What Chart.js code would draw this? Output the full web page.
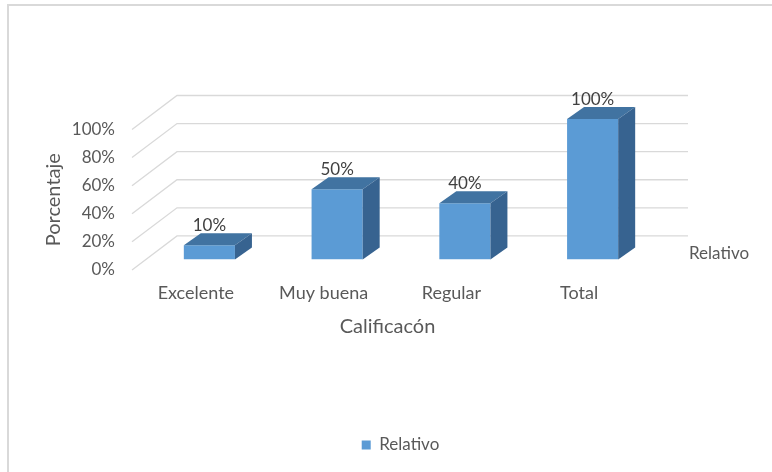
<!DOCTYPE html>
<html>
<head>
<meta charset="utf-8">
<script src="https://cdn.jsdelivr.net/npm/chart.js@4"></script>
<style>
  html, body { margin: 0; padding: 0; background: #fff; overflow: hidden; }
  #frame {
    position: absolute; left: 7px; top: 4px; width: 820px; height: 520px;
    border-top: 2px solid #d9d9d9; border-left: 2px solid #d9d9d9;
  }
  canvas { position: absolute; left: 0; top: 0; }
</style>
</head>
<body>
<div id="frame"></div>
<canvas id="chart" width="772" height="472"></canvas>
<script>
const categories = ['Excelente', 'Muy buena', 'Regular', 'Total'];
const relativo = [0.10, 0.50, 0.40, 1.00];
const yTicks = [0, 0.2, 0.4, 0.6, 0.8, 1.0];
const seriesName = 'Relativo';

// 3D look: floor depth, how far the bars sit behind the front edge, bar thickness
const WALL_DX = 45, WALL_DY = 34;
const BAR_DX = 13.5, BAR_DY = 10.5;
const BAR_DEPTH_X = 17, BAR_DEPTH_Y = 12;

const FONT = 'Lato';
const TEXT = '#595959';

const pct = v => Math.round(v * 100) + '%';

const depth3d = {
    id: 'depth3d',
    beforeDatasetsDraw(chart) {
        const { ctx, chartArea: a, scales: { y } } = chart;
        // back wall + side wall gridlines
        ctx.save();
        ctx.strokeStyle = '#d9d9d9';
        ctx.lineWidth = 1.3;
        yTicks.forEach(v => {
            const py = y.getPixelForValue(v);
            ctx.beginPath();
            ctx.moveTo(a.left, py);
            ctx.lineTo(a.left + WALL_DX, py - WALL_DY);
            ctx.lineTo(a.right + WALL_DX, py - WALL_DY);
            ctx.stroke();
        });
        ctx.restore();
        // bars stand a bit behind the front edge of the floor
        ctx.save();
        ctx.translate(BAR_DX, -BAR_DY);
    },
    afterDatasetsDraw(chart) {
        const { ctx, chartArea: a, scales: { y } } = chart;
        const meta = chart.getDatasetMeta(0);
        meta.data.forEach((bar, i) => {
            const { x, y: top, base, width } = bar.getProps(['x', 'y', 'base', 'width'], true);
            const l = x - width / 2, r = x + width / 2;
            // top face
            ctx.fillStyle = '#4173a1';
            ctx.beginPath();
            ctx.moveTo(l, top);
            ctx.lineTo(l + BAR_DEPTH_X, top - BAR_DEPTH_Y);
            ctx.lineTo(r + BAR_DEPTH_X, top - BAR_DEPTH_Y);
            ctx.lineTo(r, top);
            ctx.closePath();
            ctx.fill();
            // side face
            ctx.fillStyle = '#376390';
            ctx.beginPath();
            ctx.moveTo(r, top);
            ctx.lineTo(r + BAR_DEPTH_X, top - BAR_DEPTH_Y);
            ctx.lineTo(r + BAR_DEPTH_X, base - BAR_DEPTH_Y);
            ctx.lineTo(r, base);
            ctx.closePath();
            ctx.fill();
            // value label
            ctx.fillStyle = '#404040';
            ctx.font = '17px ' + FONT;
            ctx.textAlign = 'center';
            ctx.textBaseline = 'alphabetic';
            ctx.fillText(pct(relativo[i]), x, top - 14);
        });
        ctx.restore();

        // series axis label on the right of the floor
        ctx.save();
        ctx.fillStyle = TEXT;
        ctx.font = '17px ' + FONT;
        ctx.textAlign = 'left';
        ctx.textBaseline = 'middle';
        ctx.fillText(seriesName, a.right + 46, y.getPixelForValue(0) - 16);
        ctx.restore();
    }
};

const ctx = document.getElementById('chart').getContext('2d');
const chart = new Chart(ctx, {
    type: 'bar',
    data: {
        labels: categories,
        datasets: [{
            label: seriesName,
            data: relativo,
            backgroundColor: '#5b9bd5',
            borderWidth: 0,
            barPercentage: 0.4,
            categoryPercentage: 1.0
        }]
    },
    options: {
        responsive: false,
        animation: false,
        layout: { padding: { left: 29, right: 0, top: 129.5, bottom: 8.6 } },
        scales: {
            x: {
                grid: { display: false, drawTicks: false },
                border: { display: false },
                ticks: { color: TEXT, font: { family: FONT, size: 18 }, padding: 12, maxRotation: 0, autoSkip: false },
                title: { display: true, text: 'Calificacón', color: TEXT, font: { family: FONT, size: 20 }, padding: { top: 0, bottom: 88 } },
                afterFit: s => { s.height = 156.5; }
            },
            y: {
                min: 0,
                max: 1,
                grid: { display: false, drawTicks: false },
                border: { display: false },
                ticks: { stepSize: 0.2, color: TEXT, font: { family: FONT, size: 17 }, padding: 17, callback: v => pct(v) },
                afterBuildTicks: s => { s.ticks = yTicks.map(v => ({ value: v })); },
                title: { display: true, text: 'Porcentaje', color: TEXT, font: { family: FONT, size: 20 }, padding: { top: 13, bottom: 0 } },
                afterFit: s => { s.width = 103; }
            },
            yRight: {
                position: 'right',
                grid: { display: false, drawTicks: false },
                border: { display: false },
                ticks: { display: false },
                afterFit: s => { s.width = 129; }
            }
        },
        plugins: {
            legend: {
                position: 'bottom',
                labels: { color: TEXT, font: { family: FONT, size: 17 }, boxWidth: 9, boxHeight: 9, padding: 10 }
            },
            tooltip: { enabled: false }
        }
    },
    plugins: [depth3d]
});
</script>
</body>
</html>
